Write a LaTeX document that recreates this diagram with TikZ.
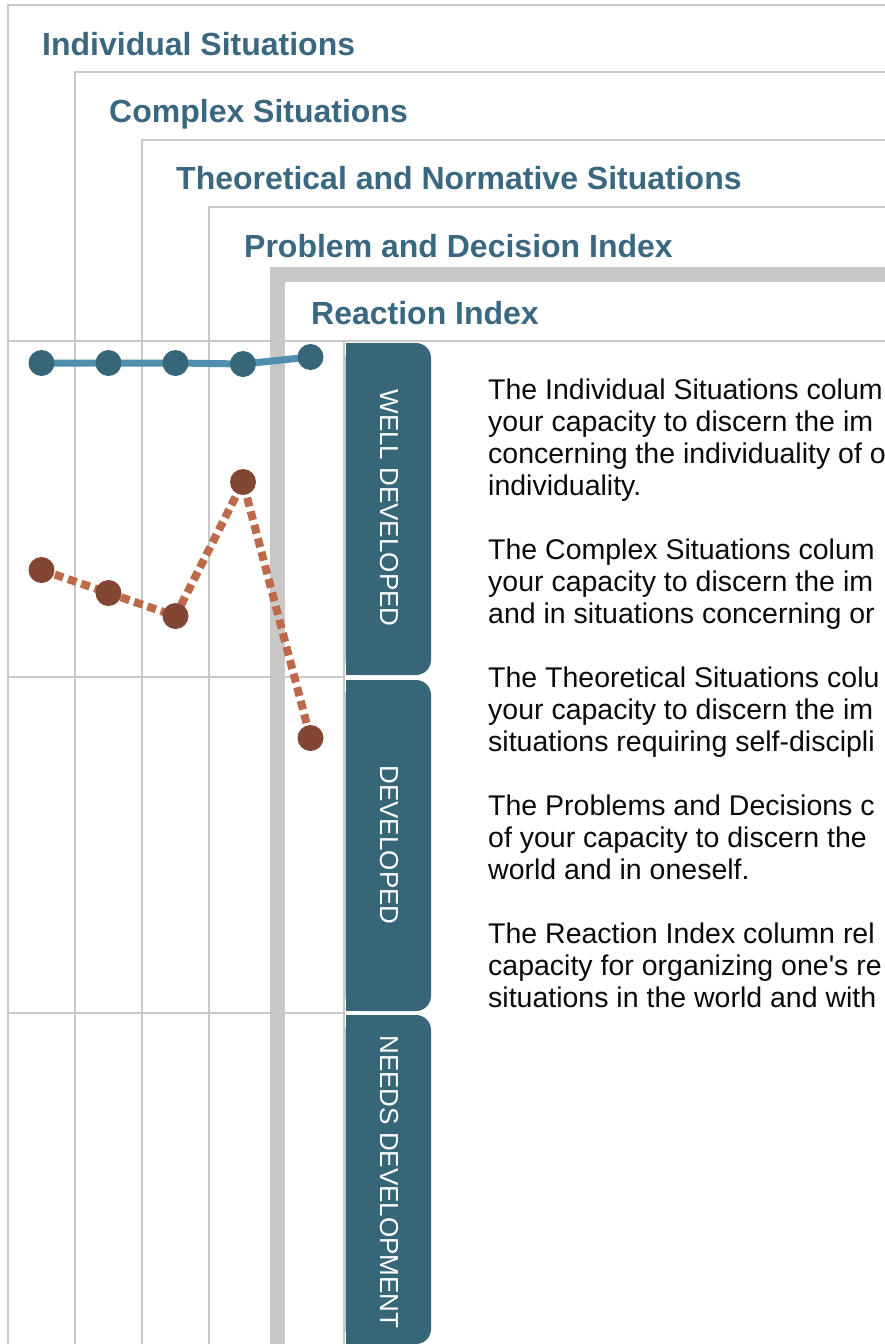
\documentclass[tikz,border=0pt]{standalone}
\usepackage{fontspec}
\setmainfont{Liberation Sans}[Ligatures=TeXOff]
\definecolor{ttl}{HTML}{3A6880}
\definecolor{tabc}{HTML}{386679}
\definecolor{blinec}{HTML}{4E8FAE}
\definecolor{bdotc}{HTML}{386679}
\definecolor{rdotc}{HTML}{824732}
\definecolor{rlinec}{HTML}{BD6A4A}
\definecolor{gridc}{HTML}{C9C9C9}
\definecolor{thickc}{HTML}{C9C8C6}
\definecolor{bodyc}{HTML}{0A0A0A}
\tikzset{
 gridline/.style={draw=gridc, line width=2.5pt, line join=miter},
 thickline/.style={draw=thickc, line width=15pt, line join=miter},
 titletext/.style={anchor=base west, text=ttl, font=\fontsize{32}{38}\selectfont\bfseries, inner sep=0pt},
 bodytext/.style={anchor=base west, text=bodyc, font=\fontsize{28.5}{32}\selectfont, inner sep=0pt},
 tabfill/.style={fill=tabc},
 tablabel/.style={text=white, rotate=-90, font=\fontsize{26}{30}\selectfont, inner sep=0pt},
 bdot/.style={circle, fill=bdotc, minimum size=26pt, inner sep=0pt},
 rdot/.style={circle, fill=rdotc, minimum size=26pt, inner sep=0pt},
 bconn/.style={draw=blinec, line width=7pt},
 rconn/.style={draw=rlinec, line width=8pt, dash pattern=on 9pt off 5pt},
}
\begin{document}
\begin{tikzpicture}[x=1pt,y=-1pt]
\useasboundingbox (0,0) rectangle (885,1344);
\fill[white] (0,0) rectangle (885,1344);
\clip (0,0) rectangle (885,1344);
% nested frames
\draw[gridline] (8,1350) -- (8,5) -- (890,5);
\draw[gridline] (75,1350) -- (75,72) -- (890,72);
\draw[gridline] (142,1350) -- (142,140) -- (890,140);
\draw[gridline] (209,1350) -- (209,207) -- (890,207);
% horizontal grid lines
\draw[gridline] (8,341) -- (890,341);
\draw[gridline] (8,677) -- (344,677);
\draw[gridline] (8,1013) -- (344,1013);
\draw[gridline] (344,341) -- (344,1350);
% thick frame
\draw[thickline] (277,1350) -- (277,274) -- (890,274);
% titles
\node[titletext] (t1) at (42,55) {Individual Situations};
\node[titletext] (t2) at (109,122) {Complex Situations};
\node[titletext] (t3) at (176,189) {Theoretical and Normative Situations};
\node[titletext] (t4) at (244,257) {Problem and Decision Index};
\node[titletext] (t5) at (311,324) {Reaction Index};
% tabs
\fill[tabfill, rounded corners=15pt] (345.5,343) rectangle (431,675);
\fill[tabfill] (345.5,343) rectangle (370,675);
\fill[tabfill, rounded corners=15pt] (345.5,680) rectangle (431,1011);
\fill[tabfill] (345.5,680) rectangle (370,1011);
\fill[tabfill, rounded corners=15pt] (345.5,1015) rectangle (431,1344);
\fill[tabfill] (345.5,1015) rectangle (370,1344);
\node[tablabel] (l1) at (389,508) {WELL DEVELOPED};
\node[tablabel] (l2) at (389,845) {DEVELOPED};
\node[tablabel] (l3) at (389,1182) {NEEDS DEVELOPMENT};
% data points
\coordinate (b1) at (41.5,363);
\coordinate (b2) at (108.5,363);
\coordinate (b3) at (175.5,363);
\coordinate (b4) at (243,364);
\coordinate (b5) at (310.5,357);
\coordinate (r1) at (41.5,570);
\coordinate (r2) at (108.5,593);
\coordinate (r3) at (175.5,616);
\coordinate (r4) at (243,482);
\coordinate (r5) at (310.5,738);
\draw[bconn] (b1) -- (b2) -- (b3) -- (b4) -- (b5);
\draw[rconn] (r1) -- (r2) -- (r3) -- (r4) -- (r5);
\foreach \i in {1,...,5} {
  \node[bdot] (bd\i) at (b\i) {};
  \node[rdot] (rd\i) at (r\i) {};
}
% body text
\node[bodytext] (p11) at (488,399) {The Individual Situations colum};
\node[bodytext] (p12) at (488,431) {your capacity to discern the im};
\node[bodytext] (p13) at (488,463) {concerning the individuality of o};
\node[bodytext] (p14) at (488,495) {individuality.};
\node[bodytext] (p21) at (488,559) {The Complex Situations colum};
\node[bodytext] (p22) at (488,591) {your capacity to discern the im};
\node[bodytext] (p23) at (488,623) {and in situations concerning or};
\node[bodytext] (p31) at (488,687) {The Theoretical Situations colu};
\node[bodytext] (p32) at (488,719) {your capacity to discern the im};
\node[bodytext] (p33) at (488,751) {situations requiring self-discipli};
\node[bodytext] (p41) at (488,815) {The Problems and Decisions c};
\node[bodytext] (p42) at (488,847) {of your capacity to discern the};
\node[bodytext] (p43) at (488,879) {world and in oneself.};
\node[bodytext] (p51) at (488,943) {The Reaction Index column rel};
\node[bodytext] (p52) at (488,975) {capacity for organizing one's re};
\node[bodytext] (p53) at (488,1007) {situations in the world and with};
\end{tikzpicture}
\end{document}
